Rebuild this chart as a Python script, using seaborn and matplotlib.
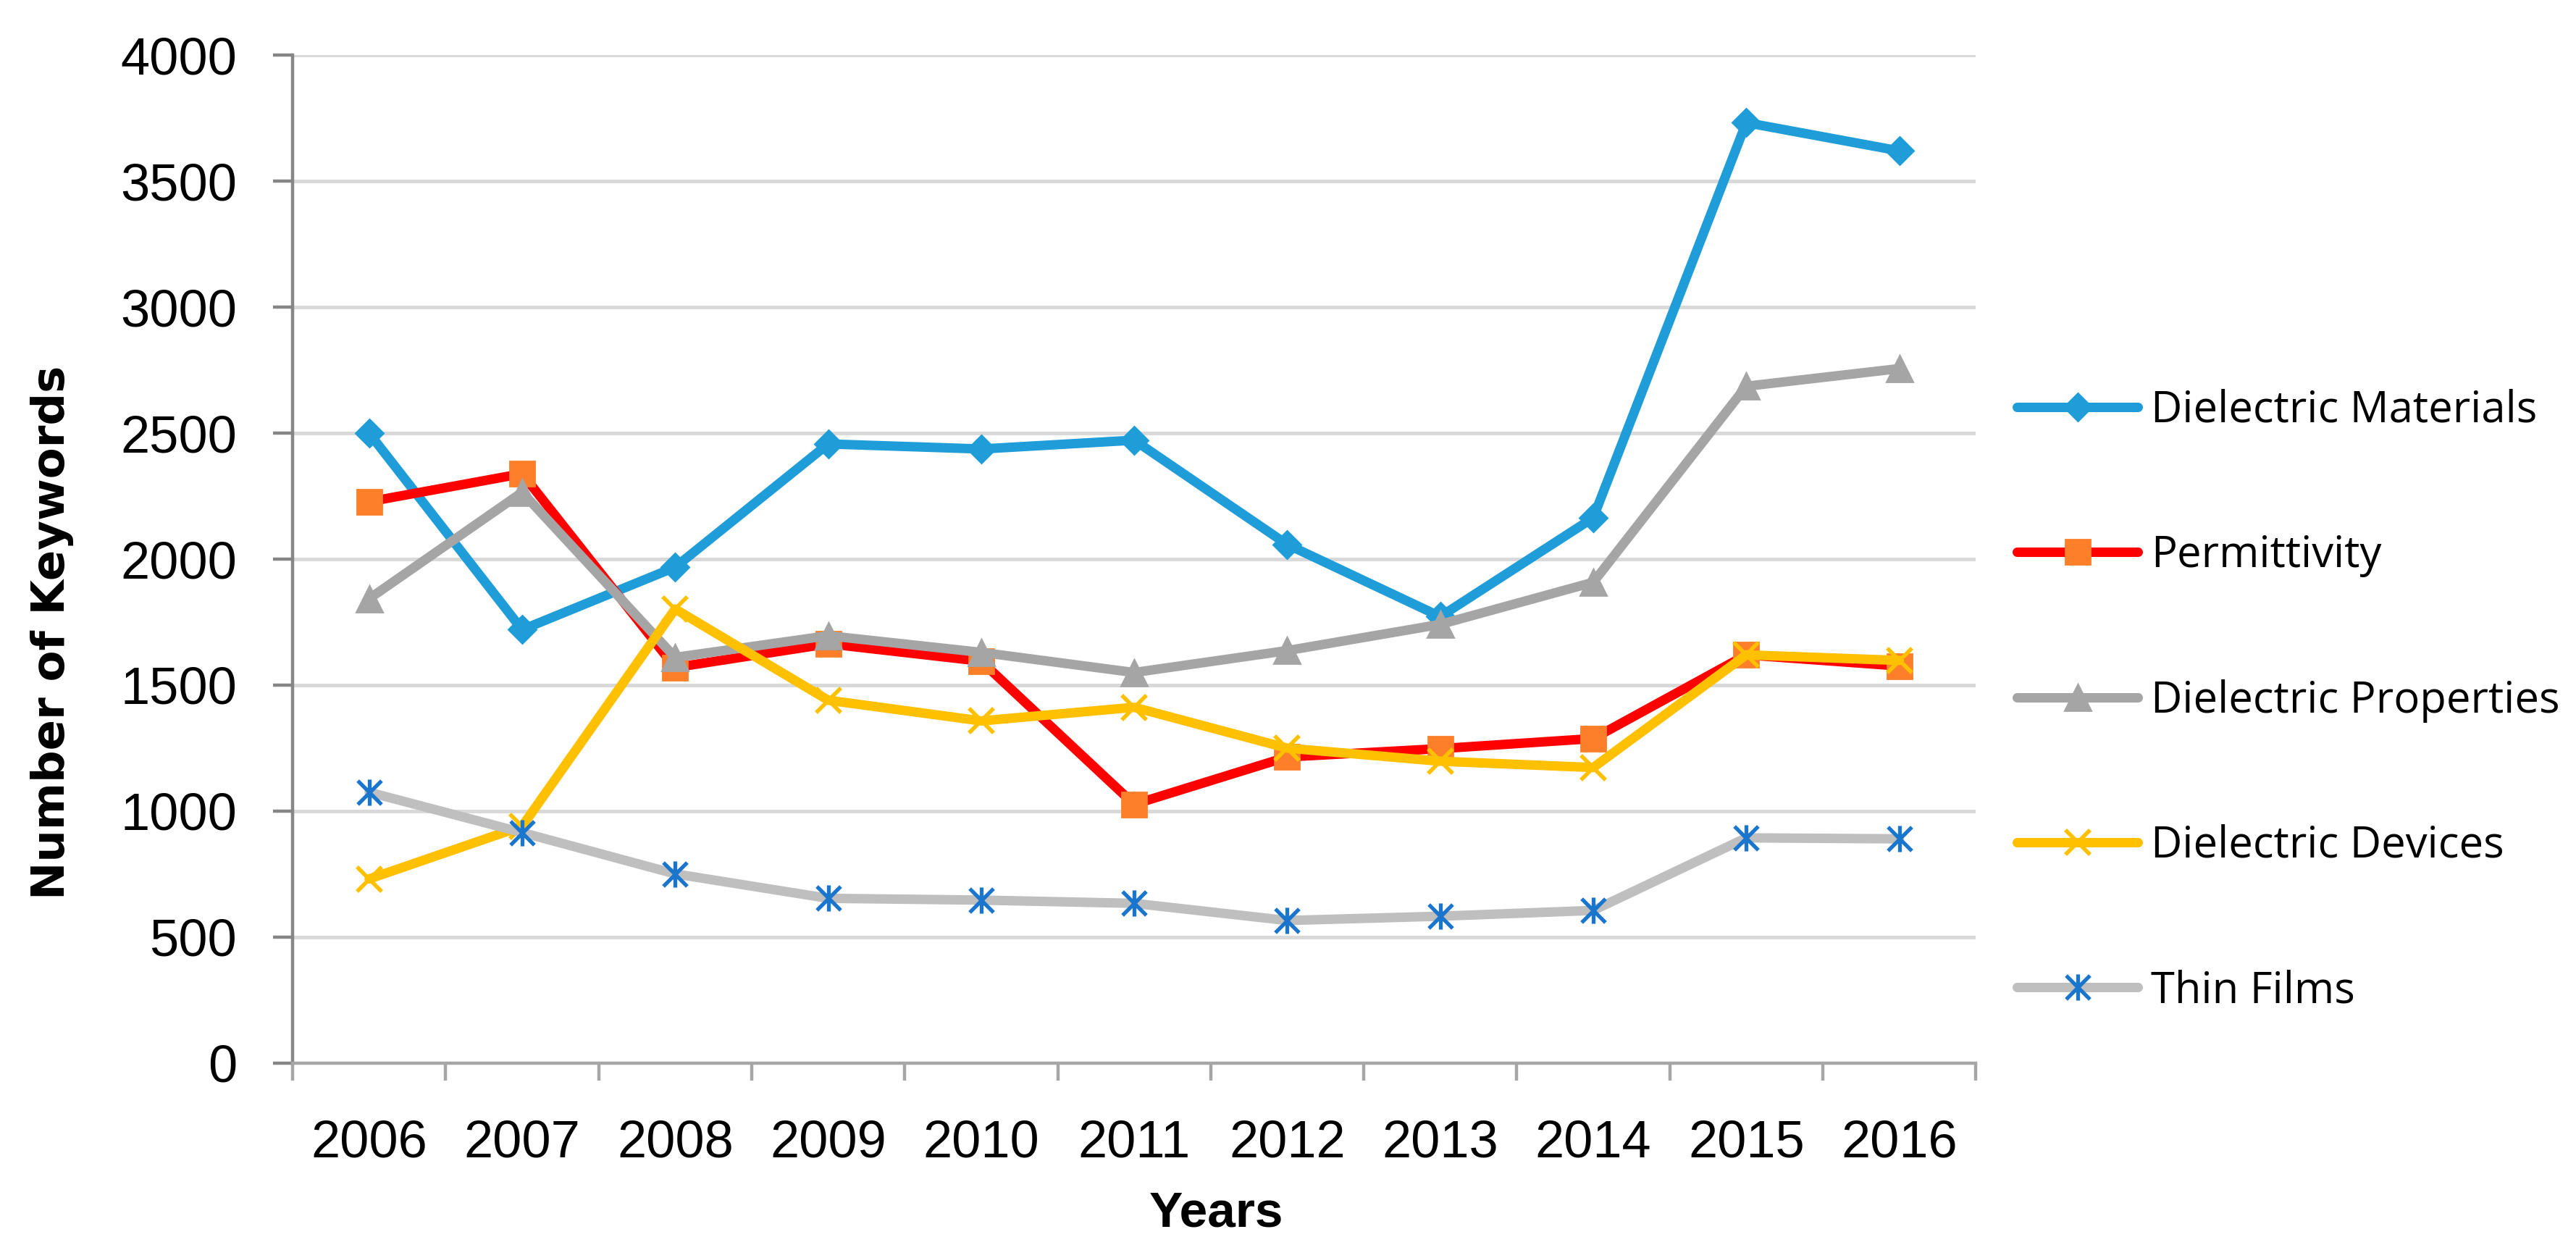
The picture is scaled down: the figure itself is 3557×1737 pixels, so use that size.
import numpy as np
import pandas as pd
import matplotlib
matplotlib.use("Agg")
import matplotlib.pyplot as plt
from matplotlib.path import Path
from matplotlib.ticker import FixedLocator
import seaborn as sns

sns.set_style("white")
plt.rcParams['font.family'] = ['Liberation Sans', 'DejaVu Sans']
plt.rcParams['text.color'] = 'black'
plt.rcParams['xtick.labelcolor'] = 'black'
plt.rcParams['ytick.labelcolor'] = 'black'
plt.rcParams['axes.labelcolor'] = 'black'

# данные
years = [2006, 2007, 2008, 2009, 2010, 2011, 2012, 2013, 2014, 2015, 2016]
dielectric_materials = [2500, 1720, 1968, 2457, 2437, 2472, 2058, 1772, 2164, 3732, 3620]
permittivity = [2228, 2339, 1570, 1664, 1595, 1027, 1215, 1248, 1288, 1620, 1576]
dielectric_properties = [1843, 2265, 1610, 1696, 1630, 1550, 1637, 1741, 1908, 2686, 2756]
dielectric_devices = [731, 940, 1802, 1440, 1358, 1412, 1250, 1198, 1173, 1620, 1598]
thin_films = [1075, 915, 751, 654, 647, 634, 566, 583, 606, 894, 890]

# маркер-звёздочка как в Excel (X + вертикальная черта)
star = Path([(-1, -1), (1, 1), (-1, 1), (1, -1), (0, -1.1), (0, 1.1)],
            [Path.MOVETO, Path.LINETO, Path.MOVETO, Path.LINETO, Path.MOVETO, Path.LINETO])

series = [
    ('Dielectric Materials', dielectric_materials,
     dict(color='#1f9dd9', marker='D', markersize=9.7, markerfacecolor='#1f9dd9',
          markeredgecolor='#1f9dd9', markeredgewidth=1)),
    ('Permittivity', permittivity,
     dict(color='#ff0000', marker='s', markersize=12.5, markerfacecolor='#fd7f2a',
          markeredgecolor='#fd7f2a', markeredgewidth=1)),
    ('Dielectric Properties', dielectric_properties,
     dict(color='#a5a5a5', marker='^', markersize=13, markerfacecolor='#a5a5a5',
          markeredgecolor='#a5a5a5', markeredgewidth=1)),
    ('Dielectric Devices', dielectric_devices,
     dict(color='#ffc000', marker='x', markersize=12.5, markeredgecolor='#ffc000',
          markeredgewidth=2)),
    ('Thin Films', thin_films,
     dict(color='#bfbfbf', marker=star, markersize=13, markerfacecolor='none',
          markeredgecolor='#1a75cc', markeredgewidth=1.9)),
]

fig = plt.figure(figsize=(17.785, 8.685), dpi=200)
ax = fig.add_axes([0.1136, 0.1549, 0.6534, 0.8013])

for name, vals, kw in series:
    sns.lineplot(x=years, y=vals, ax=ax, label=name, linewidth=4.7,
                 solid_joinstyle='round', solid_capstyle='round', **kw)

ax.set_xlim(2005.5, 2016.5)
ax.set_ylim(0, 4000)
ax.set_yticks(np.arange(0, 4001, 500))
ax.set_xticks(years)
ax.set_xticklabels([str(y) for y in years])
ax.xaxis.set_minor_locator(FixedLocator(np.arange(2005.5, 2017, 1.0)))

ax.grid(axis='y', color='#d9d9d9', linewidth=1.8)
ax.set_axisbelow(True)
for s in ['top', 'right']:
    ax.spines[s].set_visible(False)
ax.spines['left'].set_color('#868686')
ax.spines['left'].set_linewidth(1.6)
ax.spines['bottom'].set_color('#a6a6a6')
ax.spines['bottom'].set_linewidth(1.6)

ax.tick_params(axis='y', which='major', direction='out', length=9.7, width=1.6,
               color='#868686', pad=18, labelsize=26, left=True)
ax.tick_params(axis='x', which='major', length=0, pad=28, labelsize=26, bottom=True)
ax.tick_params(axis='x', which='minor', direction='out', length=8.6, width=1.6,
               color='#a6a6a6', bottom=True)

ax.set_ylabel('Number of Keywords', fontsize=22.5, fontweight='bold',
              family=['DejaVu Sans'], ha='center', va='center', color='black')
ax.yaxis.set_label_coords(-0.143, 0.4274)
ax.set_xlabel('Years', fontsize=25, fontweight='bold', ha='center', va='center',
              color='black')
ax.xaxis.set_label_coords(0.549, -0.1494)

handles, labels = ax.get_legend_handles_labels()
ax.get_legend().remove()
fig.legend(handles, labels, loc='center left', bbox_to_anchor=(0.783, 0.443),
           frameon=False, borderaxespad=0, borderpad=0, handlelength=2.8,
           handletextpad=0.3, labelspacing=2.35, labelcolor='black',
           prop={'family': ['Open Sans', 'DejaVu Sans'], 'size': 21.5})

fig.savefig('out.png', dpi=200)
